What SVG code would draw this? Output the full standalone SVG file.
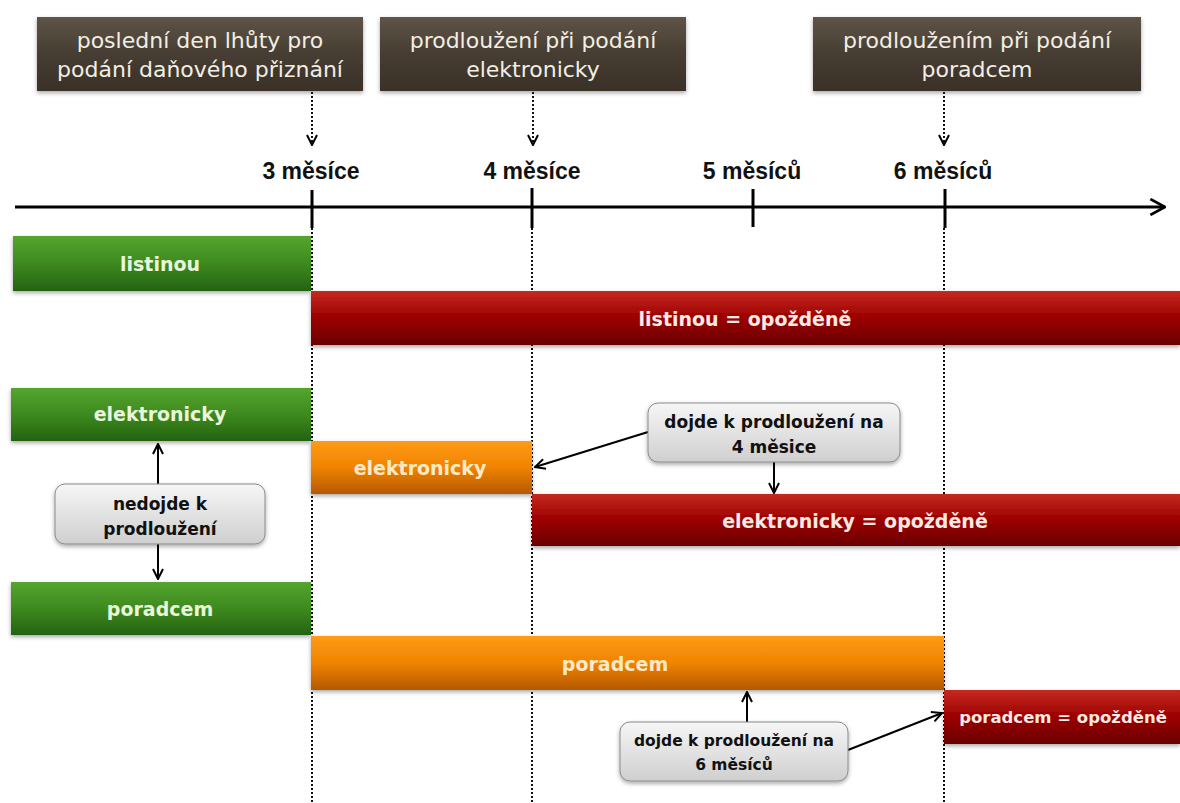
<svg xmlns="http://www.w3.org/2000/svg" width="1180" height="803" viewBox="0 0 1180 803">
<defs>
<linearGradient id="gBrown" x1="0" y1="0" x2="0" y2="1"><stop offset="0" stop-color="#5e5447"/><stop offset="0.5" stop-color="#463d32"/><stop offset="1" stop-color="#3a3128"/></linearGradient>
<linearGradient id="gGreen" x1="0" y1="0" x2="0" y2="1"><stop offset="0" stop-color="#55a52f"/><stop offset="0.5" stop-color="#3d8a1f"/><stop offset="1" stop-color="#246210"/></linearGradient>
<linearGradient id="gRed" x1="0" y1="0" x2="0" y2="1"><stop offset="0" stop-color="#c52a20"/><stop offset="0.45" stop-color="#a00303"/><stop offset="1" stop-color="#6a0000"/></linearGradient>
<linearGradient id="gOrange" x1="0" y1="0" x2="0" y2="1"><stop offset="0" stop-color="#ff9b16"/><stop offset="0.5" stop-color="#f08300"/><stop offset="1" stop-color="#b45800"/></linearGradient>
<linearGradient id="gGray" x1="0" y1="0" x2="0" y2="1"><stop offset="0" stop-color="#f6f6f6"/><stop offset="1" stop-color="#cfcfcf"/></linearGradient>
<filter id="sh" x="-5%" y="-10%" width="110%" height="130%"><feDropShadow dx="0" dy="2" stdDeviation="2" flood-color="#000" flood-opacity="0.35"/></filter>
<marker id="arr" viewBox="0 0 12 12" refX="11" refY="6" markerWidth="12" markerHeight="12" markerUnits="userSpaceOnUse" orient="auto"><path d="M1,1 L11,6 L1,11" fill="none" stroke="#000" stroke-width="2"/></marker>
<marker id="axarr" viewBox="0 0 16 16" refX="15" refY="8" markerWidth="18" markerHeight="18" markerUnits="userSpaceOnUse" orient="auto"><path d="M2,1 L15,8 L2,15" fill="none" stroke="#000" stroke-width="2.5"/></marker>
</defs>
<style>
.hdr{fill:url(#gBrown);filter:url(#sh)}
.ht{font-family:"DejaVu Sans",Verdana,sans-serif;font-size:22px;fill:#f2eee4;text-anchor:middle}
.tl{font-family:"Liberation Sans",Arial,sans-serif;font-weight:bold;font-size:23px;fill:#111;text-anchor:middle}
.bar-g{fill:url(#gGreen);filter:url(#sh)}
.bar-r{fill:url(#gRed);filter:url(#sh)}
.bar-o{fill:url(#gOrange);filter:url(#sh)}
.bt{font-family:"DejaVu Sans",Verdana,sans-serif;font-weight:bold;font-size:19px;text-anchor:middle}
.tg{fill:#eaf6dc}.tr{fill:#fbe9e4}.to{fill:#fde9c8}
.call{fill:url(#gGray);stroke:#8a8a8a;stroke-width:1;filter:url(#sh)}
.ct{font-family:"DejaVu Sans",Verdana,sans-serif;font-weight:bold;font-size:17px;fill:#111;text-anchor:middle}
.dot{stroke:#111;stroke-width:2;stroke-dasharray:2 2;fill:none}
.ln{stroke:#000;stroke-width:2;fill:none;marker-end:url(#arr)}
.tick{stroke:#000;stroke-width:3}
</style>
<rect width="1180" height="803" fill="#fff"/>

<g id="guides">
<line class="dot" x1="312" y1="228" x2="312" y2="803"/>
<line class="dot" x1="532" y1="228" x2="532" y2="803"/>
<line class="dot" x1="944" y1="228" x2="944" y2="803"/>
</g>

<g id="hdr1"><rect class="hdr" x="37" y="17" width="326" height="74"/>
<text class="ht" x="200" y="48">poslední den lhůty pro</text><text class="ht" x="200" y="77">podání daňového přiznání</text></g>
<g id="hdr2"><rect class="hdr" x="380" y="17" width="306" height="74"/>
<text class="ht" x="533" y="48">prodloužení při podání</text><text class="ht" x="533" y="77">elektronicky</text></g>
<g id="hdr3"><rect class="hdr" x="813" y="17" width="328" height="74"/>
<text class="ht" x="977" y="48">prodloužením při podání</text><text class="ht" x="977" y="77">poradcem</text></g>

<g id="axis">
<line x1="15" y1="207" x2="1165" y2="207" stroke="#000" stroke-width="3" marker-end="url(#axarr)"/>
<line class="tick" x1="312" y1="190" x2="312" y2="228"/>
<line class="tick" x1="532" y1="188" x2="532" y2="228"/>
<line class="tick" x1="753" y1="189" x2="753" y2="227"/>
<line class="tick" x1="945" y1="189" x2="945" y2="228"/>
<text class="tl" x="311" y="179">3 měsíce</text>
<text class="tl" x="532" y="179">4 měsíce</text>
<text class="tl" x="752" y="179">5 měsíců</text>
<text class="tl" x="943" y="179">6 měsíců</text>
</g>

<g id="listinou"><rect class="bar-g" x="13" y="236" width="298" height="55"/><text class="bt tg" x="160" y="271">listinou</text></g>
<g id="listinou-late"><rect class="bar-r" x="311" y="291" width="869" height="54"/><text class="bt tr" x="745" y="326">listinou = opožděně</text></g>

<g id="elektronicky"><rect class="bar-g" x="11" y="388" width="300" height="53"/><text class="bt tg" x="160" y="421">elektronicky</text></g>
<g id="elektronicky-ext"><rect class="bar-o" x="311" y="441" width="221" height="53"/><text class="bt to" x="420" y="475">elektronicky</text></g>
<g id="elektronicky-late"><rect class="bar-r" x="532" y="494" width="648" height="52"/><text class="bt tr" x="855" y="528">elektronicky = opožděně</text></g>

<g id="poradcem"><rect class="bar-g" x="11" y="582" width="300" height="53"/><text class="bt tg" x="160" y="616">poradcem</text></g>
<g id="poradcem-ext"><rect class="bar-o" x="311" y="636" width="633" height="54"/><text class="bt to" x="615" y="671">poradcem</text></g>
<g id="poradcem-late"><rect class="bar-r" x="944" y="690" width="236" height="54"/><text class="bt tr" x="1063" y="723" style="font-size:16.5px">poradcem = opožděně</text></g>

<g id="connectors">
<line class="dot" x1="312" y1="92" x2="312" y2="145" style="marker-end:url(#arr)"/>
<line class="dot" x1="533" y1="92" x2="533" y2="145" style="marker-end:url(#arr)"/>
<line class="dot" x1="944" y1="92" x2="944" y2="145" style="marker-end:url(#arr)"/>
<line class="ln" x1="158" y1="484" x2="158" y2="444"/>
<line class="ln" x1="158" y1="544" x2="158" y2="579"/>
<line class="ln" x1="648" y1="432" x2="535" y2="467"/>
<line class="ln" x1="774" y1="462" x2="774" y2="493"/>
<line class="ln" x1="747" y1="722" x2="747" y2="692"/>
<line class="ln" x1="848" y1="750" x2="942" y2="713"/>
</g>

<g id="call-nedojde"><rect class="call" x="55" y="484" width="210" height="60" rx="10"/>
<text class="ct" x="160" y="510">nedojde k</text><text class="ct" x="160" y="535">prodloužení</text></g>
<g id="call-4"><rect class="call" x="648" y="403" width="252" height="59" rx="10"/>
<text class="ct" x="774" y="428">dojde k prodloužení na</text><text class="ct" x="774" y="453">4 měsice</text></g>
<g id="call-6"><rect class="call" x="620" y="722" width="228" height="59" rx="10"/>
<text class="ct" x="734" y="746" style="font-size:15.5px">dojde k prodloužení na</text><text class="ct" x="734" y="770" style="font-size:15.5px">6 měsíců</text></g>
</svg>
